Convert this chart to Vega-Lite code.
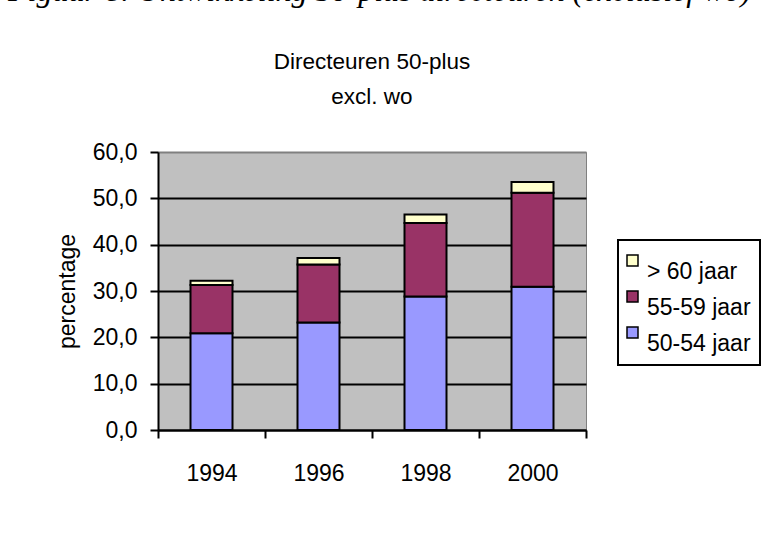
{
  "$schema": "https://vega.github.io/schema/vega-lite/v6.json",
  "autosize": "none",
  "padding": {"left": 158, "top": 152, "right": 186, "bottom": 392},
  "background": "white",
  "title": {
    "text": "Figuur 8. Ontwikkeling 50-plus directeuren (exclusief wo)",
    "anchor": "start",
    "frame": "group",
    "font": "Liberation Serif",
    "fontStyle": "italic",
    "fontWeight": "normal",
    "fontSize": 32,
    "color": "black",
    "dx": -150,
    "offset": 42
  },
  "config": {
    "locale": {"number": {"decimal": ",", "thousands": ".", "grouping": [3], "currency": ["€", ""]}},
    "font": "Liberation Sans",
    "view": {"stroke": "#808080", "strokeWidth": 1, "fill": "#C0C0C0"},
    "concat": {"spacing": 0}
  },
  "bounds": "flush",
  "vconcat": [
    {
      "width": 428,
      "height": 278,
      "title": {
        "text": ["Directeuren 50-plus", "excl. wo"],
        "anchor": "middle",
        "fontSize": 22.5,
        "fontWeight": "normal",
        "font": "Liberation Sans",
        "color": "black",
        "lineHeight": 35,
        "offset": 33
      },
      "data": {
        "values": [
          {"year": "1994", "age": "50-54 jaar", "value": 20.9},
          {"year": "1994", "age": "55-59 jaar", "value": 10.4},
          {"year": "1994", "age": "> 60 jaar", "value": 0.9},
          {"year": "1996", "age": "50-54 jaar", "value": 23.2},
          {"year": "1996", "age": "55-59 jaar", "value": 12.5},
          {"year": "1996", "age": "> 60 jaar", "value": 1.4},
          {"year": "1998", "age": "50-54 jaar", "value": 28.8},
          {"year": "1998", "age": "55-59 jaar", "value": 15.9},
          {"year": "1998", "age": "> 60 jaar", "value": 1.8},
          {"year": "2000", "age": "50-54 jaar", "value": 30.9},
          {"year": "2000", "age": "55-59 jaar", "value": 20.3},
          {"year": "2000", "age": "> 60 jaar", "value": 2.3}
        ]
      },
      "mark": {"type": "bar", "stroke": "black", "strokeWidth": 2, "size": 42},
      "encoding": {
        "x": {
          "field": "year",
          "type": "nominal",
          "scale": {"paddingInner": 0, "paddingOuter": 0},
          "axis": {
            "title": null,
            "labelAngle": 0,
            "labelFontSize": 23,
            "labelColor": "black",
            "labelPadding": 24,
            "tickBand": "extent",
            "tickColor": "black",
            "tickWidth": 2,
            "tickSize": 8,
            "domainColor": "black",
            "domainWidth": 2
          }
        },
        "y": {
          "field": "value",
          "type": "quantitative",
          "stack": "zero",
          "scale": {"domain": [0, 60], "nice": false},
          "axis": {
            "title": "percentage",
            "titleFontSize": 23,
            "titleFontWeight": "normal",
            "titleColor": "black",
            "titlePadding": 13,
            "values": [0, 10, 20, 30, 40, 50, 60],
            "format": ".1f",
            "labelFontSize": 23,
            "labelColor": "black",
            "labelPadding": 13,
            "tickColor": "black",
            "tickWidth": 2,
            "tickSize": 8,
            "domainColor": "black",
            "domainWidth": 2,
            "grid": true,
            "gridColor": {"condition": {"test": "datum.value >= 60", "value": "#808080"}, "value": "black"},
            "gridWidth": 2,
            "gridOpacity": 1
          }
        },
        "color": {
          "field": "age",
          "type": "nominal",
          "sort": ["> 60 jaar", "55-59 jaar", "50-54 jaar"],
          "scale": {
            "domain": ["> 60 jaar", "55-59 jaar", "50-54 jaar"],
            "range": ["#FFFFCC", "#993366", "#9999FF"]
          },
          "legend": {
            "title": null,
            "orient": "none",
            "legendX": 460,
            "legendY": 88,
            "labelFontSize": 23,
            "labelColor": "black",
            "labelBaseline": "top",
            "symbolType": "square",
            "symbolSize": 121,
            "symbolStrokeColor": "black",
            "symbolStrokeWidth": 1.5,
            "symbolOpacity": 1,
            "symbolOffset": -6,
            "rowPadding": 1,
            "labelOffset": 3,
            "padding": 9,
            "strokeColor": "black",
            "fillColor": "white",
            "encode": {"legend": {"update": {"strokeWidth": {"value": 2}}}}
          }
        },
        "order": {"field": "age", "sort": "ascending"}
      }
    }
  ]
}
